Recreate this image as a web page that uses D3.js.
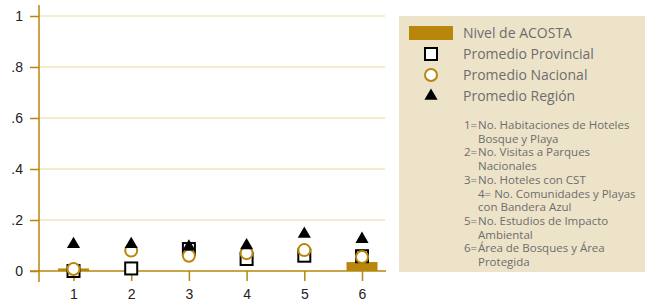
<!DOCTYPE html>
<html>
<head>
<meta charset="utf-8">
<script src="https://cdn.jsdelivr.net/npm/d3@7"></script>
<style>
  body { margin: 0; background: #fff; }
  svg { display: block; font-family: "Open Sans", sans-serif; }
</style>
</head>
<body>
<div id="chart"></div>
<script>
const categories = ['1', '2', '3', '4', '5', '6'];
const yTicks = [0, 0.2, 0.4, 0.6, 0.8, 1];
const nivelAcosta = [0.01, 0, 0, 0, 0, 0.035];
const promProvincial = [0, 0.01, 0.086, 0.047, 0.06, 0.058];
const promNacional = [0.008, 0.08, 0.06, 0.07, 0.082, 0.055];
const promRegion = [0.105, 0.105, 0.095, 0.1, 0.145, 0.125];
const legendLabels = ['Nivel de ACOSTA', 'Promedio Provincial', 'Promedio Nacional', 'Promedio Región'];
const notes = [
  ['1=', 'No. Habitaciones de Hoteles'],
  ['', 'Bosque y Playa'],
  ['2=', 'No. Visitas a Parques'],
  ['', 'Nacionales'],
  ['3=', 'No. Hoteles con CST'],
  ['', '4= No. Comunidades y Playas'],
  ['', 'con Bandera Azul'],
  ['5=', 'No. Estudios de Impacto'],
  ['', 'Ambiental'],
  ['6=', 'Área de Bosques y Área'],
  ['', 'Protegida']
];

const gold = '#b8860b';
const W = 645, H = 305;

const svg = d3.select('#chart').append('svg')
  .attr('width', W).attr('height', H);

const x = d3.scalePoint().domain(categories).range([73.5, 362]);
const y = d3.scaleLinear().domain([0, 1]).range([271, 16]);

// gridlines
svg.append('g').selectAll('line')
  .data(yTicks.filter(d => d > 0))
  .enter().append('line')
  .attr('x1', 39).attr('x2', 385)
  .attr('y1', d => y(d)).attr('y2', d => y(d))
  .attr('stroke', '#f0e4c2').attr('stroke-width', 1.5);

// y axis
const yAxis = d3.axisLeft(y).tickValues(yTicks).tickSize(9).tickPadding(7)
  .tickFormat(d => d === 0 ? '0' : d === 1 ? '1' : d3.format('.1f')(d).replace(/^0/, ''));
const gy = svg.append('g').attr('transform', 'translate(39,0)').call(yAxis);
gy.select('.domain').remove();
gy.selectAll('.tick line').attr('stroke', gold).attr('stroke-width', 1.5);
gy.selectAll('.tick text').attr('fill', '#222').style('font-size', '14px');
svg.append('line').attr('x1', 39).attr('x2', 39).attr('y1', 5).attr('y2', 282)
  .attr('stroke', gold).attr('stroke-width', 1.5);

// bars
const bw = 31;
svg.append('g').selectAll('rect')
  .data(nivelAcosta)
  .enter().append('rect')
  .attr('x', (d, i) => x(categories[i]) - bw / 2)
  .attr('width', bw)
  .attr('y', d => y(d))
  .attr('height', d => y(0) - y(d))
  .attr('fill', gold);

// x axis
const xAxis = d3.axisBottom(x).tickSize(10).tickPadding(8);
const gx = svg.append('g').attr('transform', 'translate(0,271)').call(xAxis);
gx.select('.domain').remove();
gx.selectAll('.tick line').attr('stroke', gold).attr('stroke-width', 1.5);
gx.selectAll('.tick text').attr('fill', '#222').style('font-size', '14px');
svg.append('line').attr('x1', 30).attr('x2', 386).attr('y1', 271).attr('y2', 271)
  .attr('stroke', gold).attr('stroke-width', 1.5);

// markers
const sq = 12;
svg.append('g').selectAll('rect')
  .data(promProvincial)
  .enter().append('rect')
  .attr('x', (d, i) => x(categories[i]) - sq / 2)
  .attr('y', d => y(d) - sq / 2)
  .attr('width', sq).attr('height', sq)
  .attr('fill', '#fff').attr('stroke', '#000').attr('stroke-width', 2);

svg.append('g').selectAll('circle')
  .data(promNacional)
  .enter().append('circle')
  .attr('cx', (d, i) => x(categories[i]))
  .attr('cy', d => y(d))
  .attr('r', 6)
  .attr('fill', '#fff')
  .attr('stroke', gold).attr('stroke-width', 2);

const tri = d3.symbol().type(d3.symbolTriangle).size(75);
svg.append('g').selectAll('path')
  .data(promRegion)
  .enter().append('path')
  .attr('d', tri)
  .attr('transform', (d, i) => 'translate(' + x(categories[i]) + ',' + y(d) + ')')
  .attr('fill', '#000');

// legend box
svg.append('rect').attr('x', 399).attr('y', 16).attr('width', 246).attr('height', 256)
  .attr('fill', '#ede3c9');

const leg = svg.append('g').selectAll('g')
  .data(legendLabels)
  .enter().append('g')
  .attr('transform', (d, i) => 'translate(0,' + (33 + i * 21) + ')');

leg.append('text')
  .attr('x', 463).attr('dy', '0.35em')
  .attr('fill', '#6d6d6d').style('font-size', '14px')
  .text(d => d);

leg.filter((d, i) => i === 0).append('rect')
  .attr('x', 409).attr('y', -7).attr('width', 44).attr('height', 14).attr('fill', gold);
leg.filter((d, i) => i === 1).append('rect')
  .attr('x', 425).attr('y', -6).attr('width', 12).attr('height', 12)
  .attr('fill', '#fff').attr('stroke', '#000').attr('stroke-width', 2);
leg.filter((d, i) => i === 2).append('circle')
  .attr('cx', 431).attr('r', 6)
  .attr('fill', '#fff').attr('stroke', gold).attr('stroke-width', 2);
leg.filter((d, i) => i === 3).append('path')
  .attr('d', tri).attr('transform', 'translate(431,0)').attr('fill', '#000');

// notes
const nt = svg.append('g').selectAll('g')
  .data(notes)
  .enter().append('g')
  .attr('transform', (d, i) => 'translate(0,' + (125 + i * 13.7) + ')');
nt.append('text').attr('x', 464).attr('dy', '0.35em')
  .attr('fill', '#6d6d6d').style('font-size', '11.5px').text(d => d[0]);
nt.append('text').attr('x', 478).attr('dy', '0.35em')
  .attr('fill', '#6d6d6d').style('font-size', '11.5px').text(d => d[1]);
</script>
</body>
</html>
